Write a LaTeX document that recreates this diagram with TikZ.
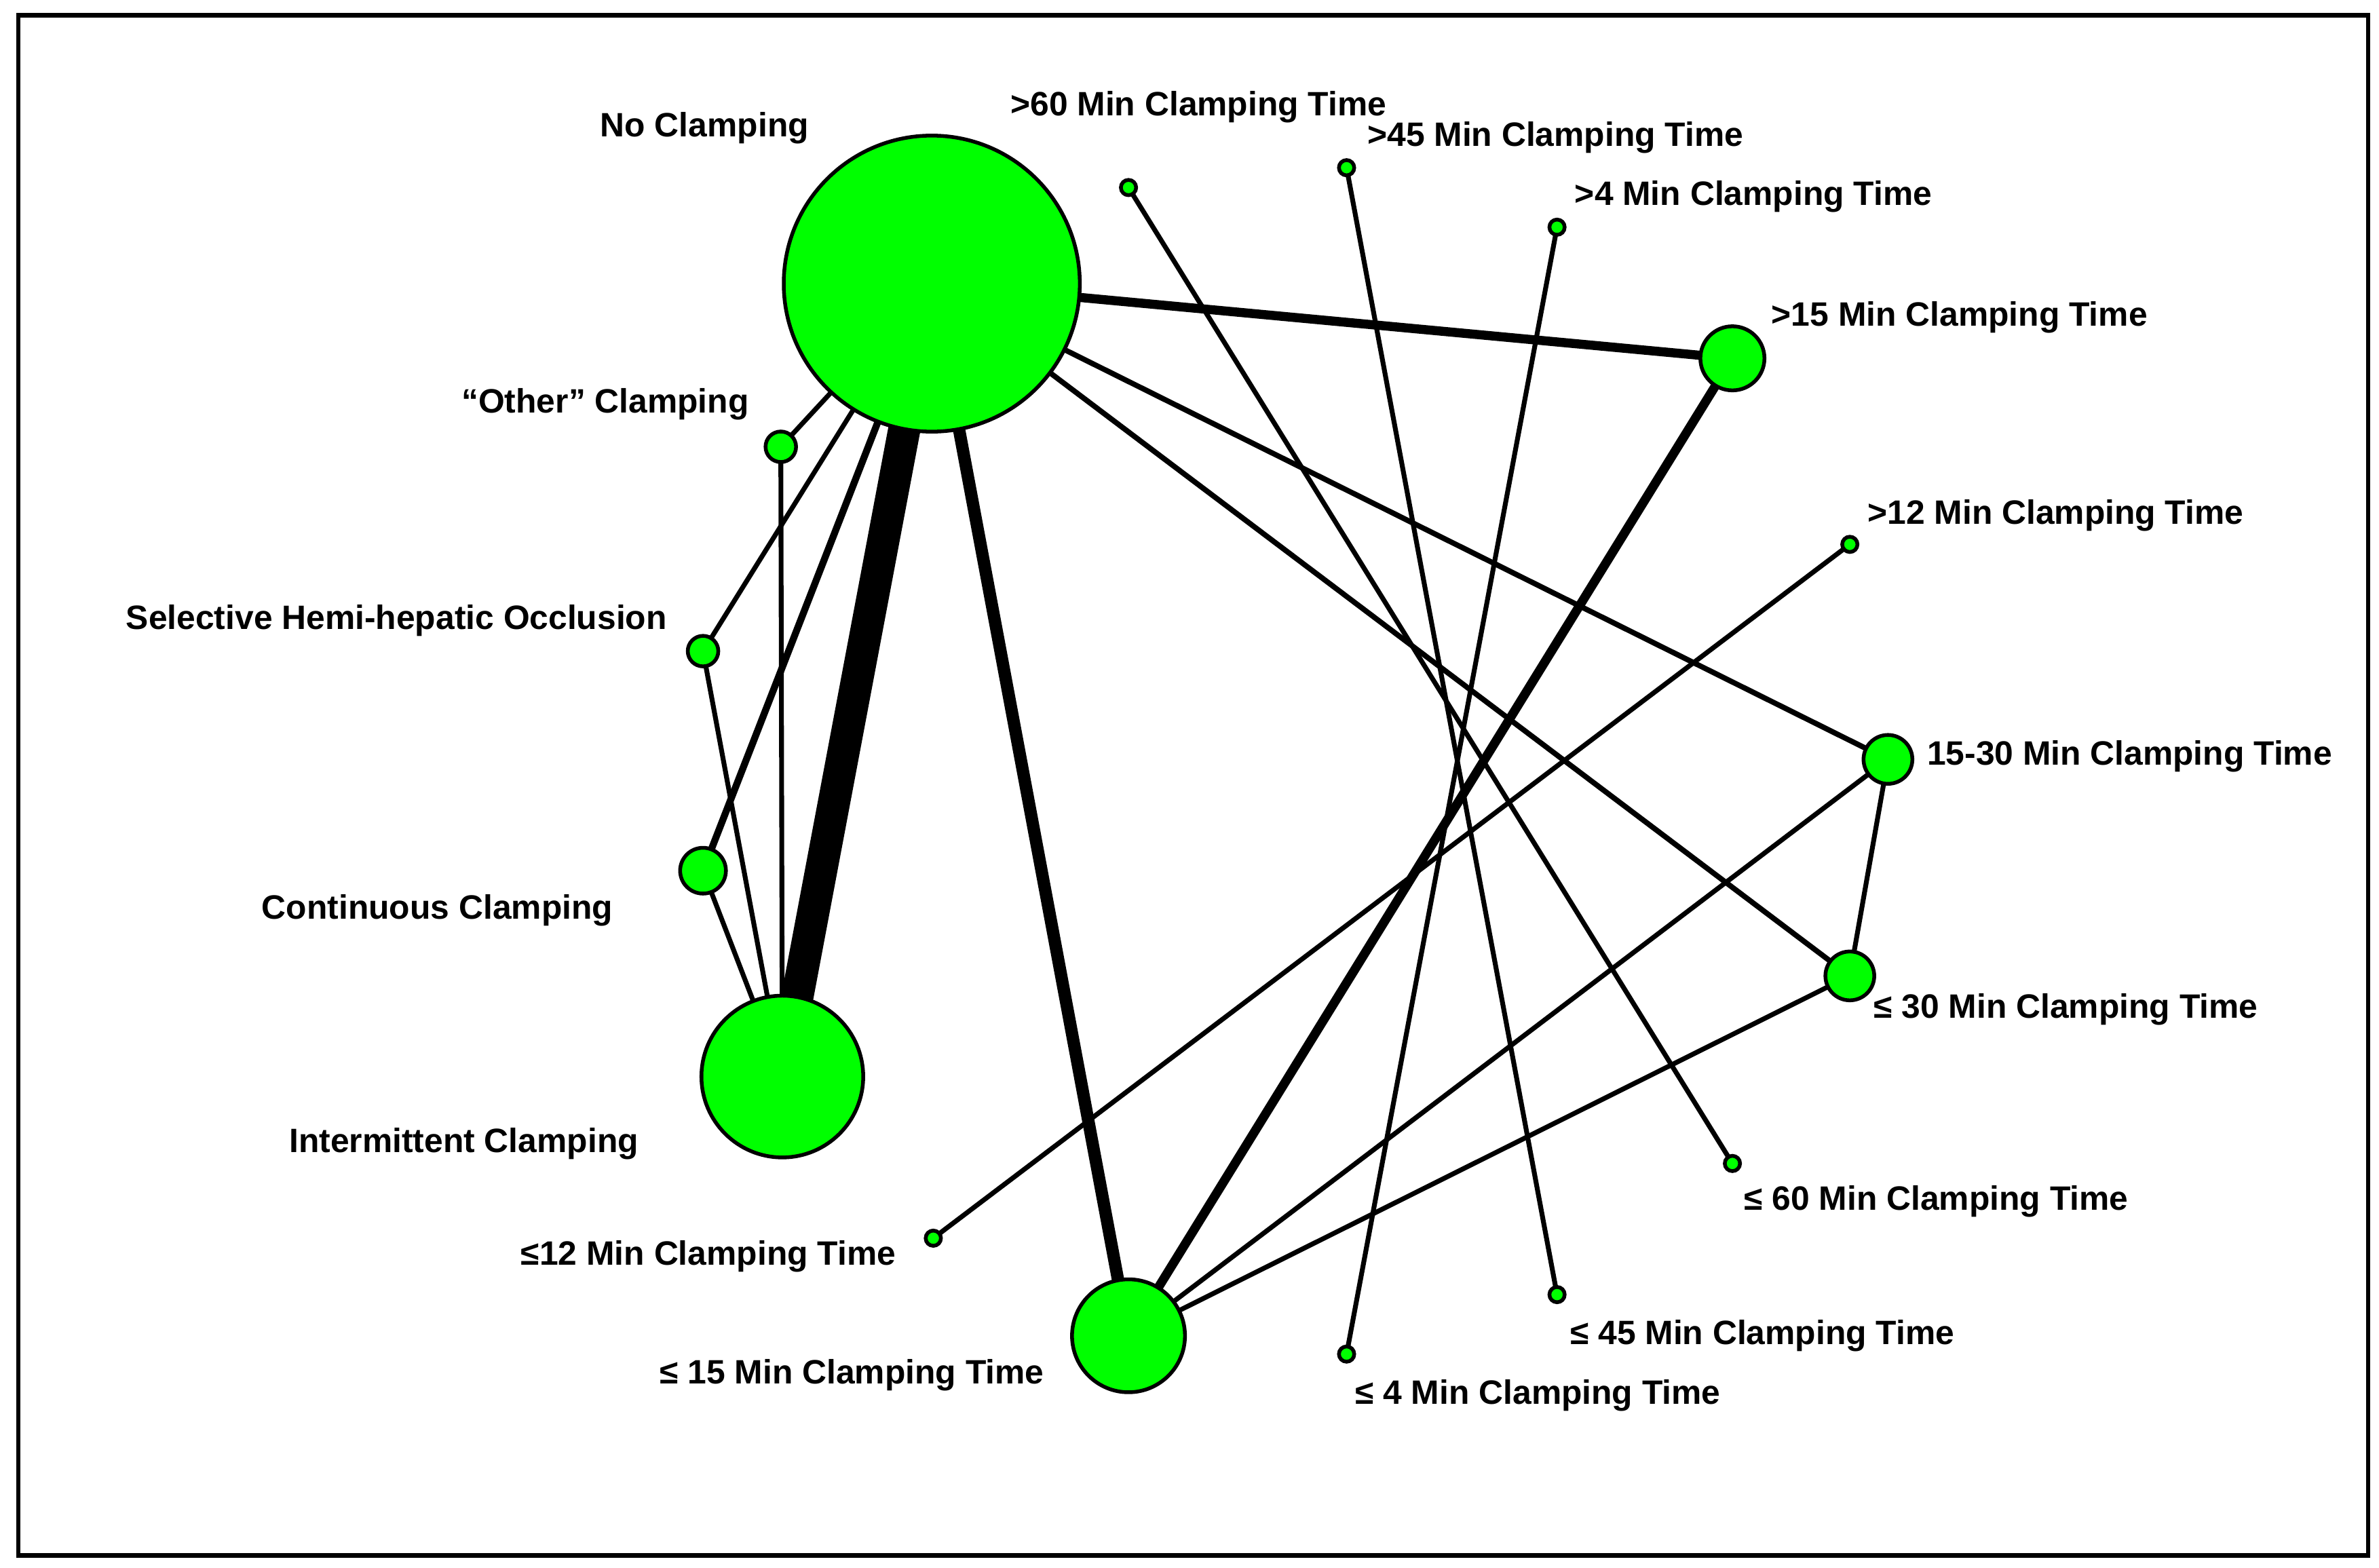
\documentclass[tikz,border=0pt]{standalone}
\usepackage{fontspec}
\setmainfont{Liberation Sans}
\begin{document}
\begin{tikzpicture}[x=0.01cm,y=-0.01cm,
  pt/.style={circle,draw=black,line width=0.7pt,fill=green,inner sep=0pt,minimum size=#1*0.02cm},
  lab/.style={anchor=west,font=\bfseries\fontsize{6.3}{8}\selectfont,inner sep=0pt},
  ed/.style={line width=#1}]
			% Rahmen
			\useasboundingbox (0,0) rectangle (1560,1028);
			\draw[line width=0.8pt] (12,10) rectangle (1553,1020);

			% Kanten
			\coordinate (no) at (611,186);
			\coordinate (oth) at (512,293);
			\coordinate (sel) at (461,427);
			\coordinate (con) at (461,571);
			\coordinate (int) at (513,706);
			\coordinate (le15) at (740,876);
			\coordinate (le12) at (612,812);
			\coordinate (gt60) at (740,123);
			\coordinate (gt45) at (883,110);
			\coordinate (gt4) at (1021,149);
			\coordinate (gt15) at (1136,235);
			\coordinate (gt12) at (1213,357);
			\coordinate (m1530) at (1238,498);
			\coordinate (le30) at (1213,640);
			\coordinate (le60) at (1136,763);
			\coordinate (le45) at (1021,849);
			\coordinate (le4) at (883,888);
			\draw[ed=1.7pt] (no) -- (gt15);
			\draw[ed=1pt] (no) -- (m1530);
			\draw[ed=1pt] (no) -- (le30);
			\draw[ed=0.9pt] (no) -- (oth);
			\draw[ed=0.9pt] (no) -- (sel);
			\draw[ed=1.3pt] (no) -- (con);
			\draw[ed=6pt] (no) -- (int);
			\draw[ed=2.3pt] (no) -- (le15);
			\draw[ed=0.9pt] (oth) -- (int);
			\draw[ed=0.9pt] (sel) -- (int);
			\draw[ed=0.9pt] (con) -- (int);
			\draw[ed=0.9pt] (gt60) -- (le60);
			\draw[ed=0.9pt] (gt45) -- (le45);
			\draw[ed=0.9pt] (gt4) -- (le4);
			\draw[ed=1.7pt] (gt15) -- (le15);
			\draw[ed=0.9pt] (gt12) -- (le12);
			\draw[ed=0.9pt] (m1530) -- (le15);
			\draw[ed=0.9pt] (m1530) -- (le30);
			\draw[ed=0.9pt] (le30) -- (le15);

			% Knoten
			\foreach \n/\r in {no/97,oth/10,sel/10,con/15,int/53,le15/37,le12/5,gt60/5,gt45/5,gt4/5,gt15/21,gt12/5,m1530/16,le30/16,le60/5,le45/5,le4/5}
				\node[pt=\r] (n\n) at (\n) {};

			% Beschriftungen
			\node[lab] (tno) at (393,84) {No Clamping};
			\node[lab] (toth) at (302,265) {“Other” Clamping};
			\node[lab] (tsel) at (82,407) {Selective Hemi-hepatic Occlusion};
			\node[lab] (tcon) at (171,597) {Continuous Clamping};
			\node[lab] (tint) at (189,750) {Intermittent Clamping};
			\node[lab] (tle12) at (341,824) {≤12 Min Clamping Time};
			\node[lab] (tle15) at (432,902) {≤ 15 Min Clamping Time};
			\node[lab] (tgt60) at (662,70) {>60 Min Clamping Time};
			\node[lab] (tgt45) at (896,90) {>45 Min Clamping Time};
			\node[lab] (tgt4) at (1032,129) {>4 Min Clamping Time};
			\node[lab] (tgt15) at (1161,208) {>15 Min Clamping Time};
			\node[lab] (tgt12) at (1224,338) {>12 Min Clamping Time};
			\node[lab] (t1530) at (1263,496) {15-30 Min Clamping Time};
			\node[lab] (tle30) at (1228,662) {≤ 30 Min Clamping Time};
			\node[lab] (tle60) at (1143,788) {≤ 60 Min Clamping Time};
			\node[lab] (tle45) at (1029,876) {≤ 45 Min Clamping Time};
			\node[lab] (tle4) at (888,915) {≤ 4 Min Clamping Time};

		\end{tikzpicture}
\end{document}
